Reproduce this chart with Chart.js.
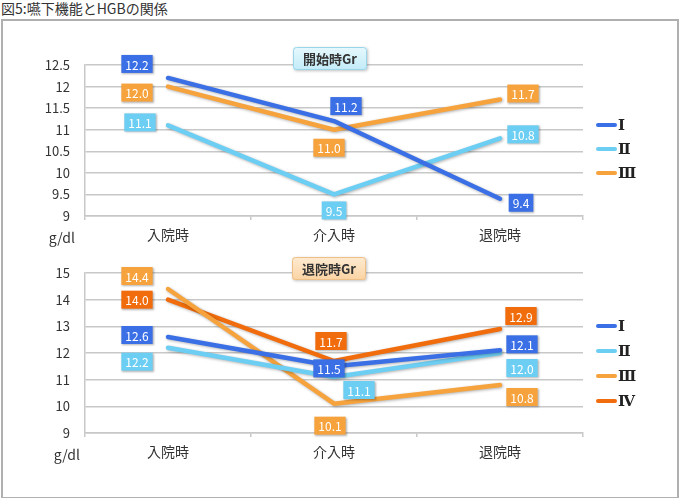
<!DOCTYPE html>
<html>
<head>
<meta charset="utf-8">
<script src="https://cdn.jsdelivr.net/npm/chart.js@4"></script>
<style>
  body { margin: 0; background: #fff; font-family: "Noto Sans CJK JP", sans-serif; }
  #title { position: absolute; left: 1px; top: -1px; font-size: 14px; line-height: 18px; color: #333; }
  #frame { position: absolute; left: 1px; top: 19px; width: 674px; height: 476px; border: 2px solid #b0b0b0; }
  canvas { position: absolute; left: 0; }
  #c1 { top: 20px; }
  #c2 { top: 250px; }
</style>
</head>
<body>
<div id="title">図5:嚥下機能とHGBの関係</div>
<div id="frame"></div>
<canvas id="c1" width="680" height="230"></canvas>
<canvas id="c2" width="680" height="230"></canvas>
<script>
// 共通カテゴリ
const categories = ["入院時", "介入時", "退院時"];
const seriesNames = ["Ⅰ", "Ⅱ", "Ⅲ", "Ⅳ"];

// 開始時Gr
const startI = [12.2, 11.2, 9.4];
const startII = [11.1, 9.5, 10.8];
const startIII = [12.0, 11.0, 11.7];

// 退院時Gr
const dischargeI = [12.6, 11.5, 12.1];
const dischargeII = [12.2, 11.1, 12.0];
const dischargeIII = [14.4, 10.1, 10.8];
const dischargeIV = [14.0, 11.7, 12.9];

const colors = ["#3a6fe6", "#6dcef3", "#f6a33e", "#f06c0c"];
const FONT = '"Noto Sans CJK JP", sans-serif';

// ラベルの位置 (点からのずれ)
const offsetsTop = [
    [[-31, -14], [12, -15], [21, 4]],
    [[-28, -3], [0, 16], [23, -4]],
    [[-31, 6], [-5, 18], [23, -6]],
];
const offsetsBottom = [
    [[-31, -2], [-5, 2], [22, -6]],
    [[-31, 14], [25, 13], [22, 15]],
    [[-31, -13], [-4, 22], [22, 12]],
    [[-31, 0], [-3, -20], [21, -13]],
];

function roundRect(ctx, x, y, w, h, r) {
    ctx.beginPath();
    ctx.moveTo(x + r, y);
    ctx.arcTo(x + w, y, x + w, y + h, r);
    ctx.arcTo(x + w, y + h, x, y + h, r);
    ctx.arcTo(x, y + h, x, y, r);
    ctx.arcTo(x, y, x + w, y, r);
    ctx.closePath();
}

const decorPlugin = {
    id: "decor",
    beforeDatasetsDraw(chart) {
        const ctx = chart.ctx;
        ctx.save();
        ctx.shadowColor = "rgba(0,0,0,0.3)";
        ctx.shadowBlur = 3;
        ctx.shadowOffsetX = 1;
        ctx.shadowOffsetY = 1;
    },
    afterDatasetsDraw(chart, args, opts) {
        const ctx = chart.ctx;
        ctx.restore();

        // データラベル
        ctx.save();
        ctx.font = "12px " + FONT;
        ctx.textAlign = "center";
        ctx.textBaseline = "middle";
        chart.data.datasets.forEach((ds, i) => {
            const meta = chart.getDatasetMeta(i);
            meta.data.forEach((pt, j) => {
                const off = opts.offsets[i][j];
                const txt = ds.data[j].toFixed(1);
                const w = ctx.measureText(txt).width + 8;
                const h = 18;
                const cx = pt.x + off[0];
                const cy = pt.y + off[1];
                ctx.save();
                ctx.shadowColor = "rgba(0,0,0,0.3)";
                ctx.shadowBlur = 2;
                ctx.shadowOffsetX = 1;
                ctx.shadowOffsetY = 1;
                ctx.fillStyle = ds.borderColor;
                ctx.fillRect(cx - w / 2, cy - h / 2, w, h);
                ctx.restore();
                ctx.fillStyle = "#fff";
                ctx.fillText(txt, cx, cy + 1);
            });
        });
        ctx.restore();
    },
    afterDraw(chart, args, opts) {
        const ctx = chart.ctx;
        const area = chart.chartArea;
        ctx.save();

        // タイトルの箱
        const bx = opts.box.x, by = opts.box.y, bw = 74, bh = 23;
        ctx.save();
        ctx.shadowColor = "rgba(0,0,0,0.25)";
        ctx.shadowBlur = 3;
        ctx.shadowOffsetX = 1;
        ctx.shadowOffsetY = 1;
        const g = ctx.createLinearGradient(0, by, 0, by + bh);
        g.addColorStop(0, opts.box.fill[0]);
        g.addColorStop(1, opts.box.fill[1]);
        roundRect(ctx, bx, by, bw, bh, 3);
        ctx.fillStyle = g;
        ctx.fill();
        ctx.restore();
        roundRect(ctx, bx + 0.5, by + 0.5, bw - 1, bh - 1, 3);
        ctx.strokeStyle = opts.box.border;
        ctx.lineWidth = 1;
        ctx.stroke();
        ctx.fillStyle = "#333";
        ctx.font = "bold 13px " + FONT;
        ctx.textAlign = "center";
        ctx.textBaseline = "middle";
        ctx.fillText(opts.box.text, bx + bw / 2, by + bh / 2 + 1);

        // 単位
        ctx.font = "14px " + FONT;
        ctx.textAlign = "right";
        ctx.fillStyle = "#333";
        ctx.fillText("g/dl", area.left - opts.unitGap, opts.unitY);

        // 凡例
        chart.data.datasets.forEach((ds, i) => {
            const y = opts.legend.y + i * opts.legend.step;
            ctx.beginPath();
            ctx.lineCap = "round";
            ctx.lineWidth = 4;
            ctx.strokeStyle = ds.borderColor;
            ctx.moveTo(598, y);
            ctx.lineTo(615, y);
            ctx.stroke();
            ctx.fillStyle = "#222";
            ctx.font = "bold 15px 'DejaVu Serif', serif";
            ctx.textAlign = "left";
            ctx.fillText(ds.label, 618, y + 1);
        });
        ctx.restore();
    },
};

function makeDataset(label, data, color) {
    return {
        label: label,
        data: data,
        borderColor: color,
        backgroundColor: color,
        borderWidth: 4.5,
        pointRadius: 0,
        tension: 0,
        borderCapStyle: "round",
        borderJoinStyle: "round",
    };
}

function makeOptions(cfg) {
    return {
        responsive: false,
        animation: false,
        layout: { padding: { top: cfg.top, right: 97, bottom: cfg.bottom, left: 0 } },
        plugins: {
            legend: { display: false },
            tooltip: { enabled: false },
            decor: cfg.decor,
        },
        scales: {
            x: {
                offset: true,
                grid: {
                    offset: true,
                    drawOnChartArea: false,
                    drawTicks: true,
                    tickLength: 4,
                    color: "#c8c8c8",
                    lineWidth: 1.5,
                },
                border: { color: "#c8c8c8", width: 1.5 },
                ticks: { font: { family: FONT, size: 14 }, color: "#333", padding: 6 },
                afterFit: (s) => { s.height = 34; },
            },
            y: {
                min: cfg.min,
                max: cfg.max,
                ticks: {
                    stepSize: cfg.step,
                    font: { family: FONT, size: 13 },
                    color: "#333",
                    padding: 15,
                    callback: (v) => String(v),
                },
                grid: { color: "#c8c8c8", lineWidth: 1.5, drawTicks: false },
                border: { color: "#c8c8c8", width: 1.5 },
                afterFit: (s) => { s.width = 85; },
            },
        },
    };
}

new Chart(document.getElementById("c1"), {
    type: "line",
    data: {
        labels: categories,
        datasets: [
            makeDataset(seriesNames[0], startI, colors[0]),
            makeDataset(seriesNames[1], startII, colors[1]),
            makeDataset(seriesNames[2], startIII, colors[2]),
        ],
    },
    options: makeOptions({
        top: 45, bottom: 0, min: 9, max: 12.5, step: 0.5,
        decor: {
            offsets: offsetsTop,
            box: { x: 293, y: 27, text: "開始時Gr", fill: ["#e6f8fd", "#c2ecf8"], border: "#9ad5ea" },
            unitGap: 10, unitY: 218,
            legend: { y: 105, step: 24 },
        },
    }),
    plugins: [decorPlugin],
});

new Chart(document.getElementById("c2"), {
    type: "line",
    data: {
        labels: categories,
        datasets: [
            makeDataset(seriesNames[0], dischargeI, colors[0]),
            makeDataset(seriesNames[1], dischargeII, colors[1]),
            makeDataset(seriesNames[2], dischargeIII, colors[2]),
            makeDataset(seriesNames[3], dischargeIV, colors[3]),
        ],
    },
    options: makeOptions({
        top: 23, bottom: 13, min: 9, max: 15, step: 1,
        decor: {
            offsets: offsetsBottom,
            box: { x: 292, y: 7, text: "退院時Gr", fill: ["#feebd2", "#fbd3a2"], border: "#efbf88" },
            unitGap: 5, unitY: 205,
            legend: { y: 76, step: 25 },
        },
    }),
    plugins: [decorPlugin],
});
</script>
</body>
</html>
